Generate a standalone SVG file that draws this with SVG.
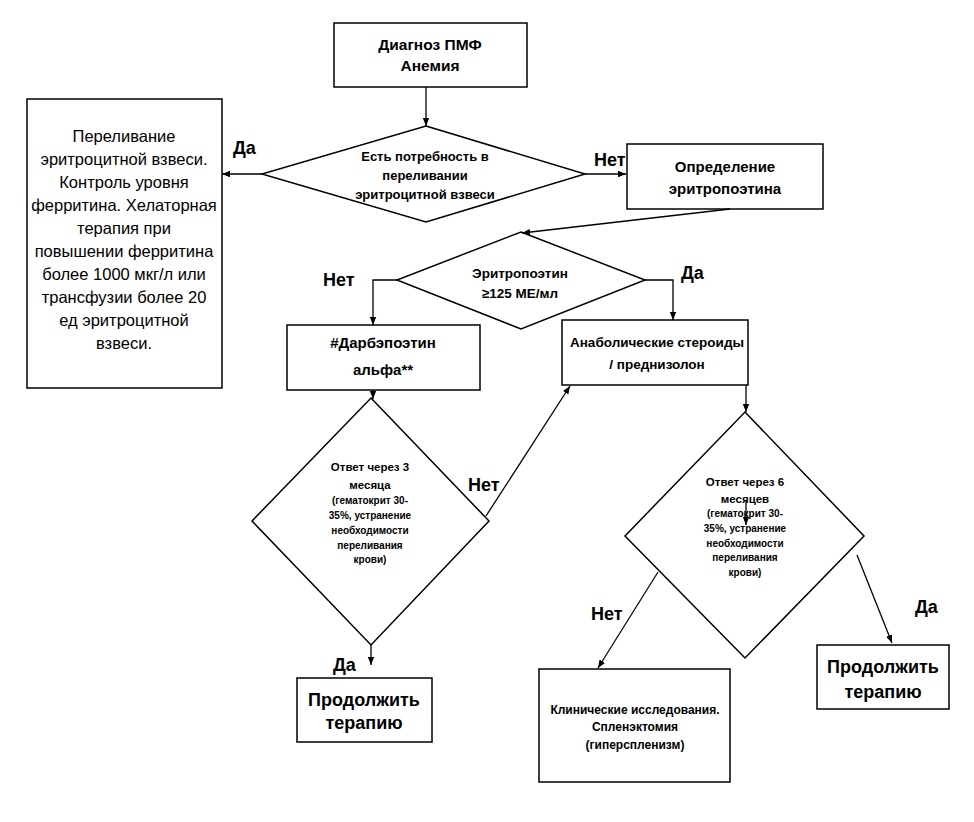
<svg xmlns="http://www.w3.org/2000/svg" width="974" height="822" viewBox="0 0 974 822">
<style>
.s{fill:#fff;stroke:#000;stroke-width:1.5}
.c{fill:none;stroke:#000;stroke-width:1.3;marker-end:url(#ah)}
text{font-family:"Liberation Sans",Arial,sans-serif;text-anchor:middle;fill:#000}
.b{font-weight:bold}
.l{font-weight:bold;font-size:18px;text-anchor:start}
</style>
<defs>
<marker id="ah" viewBox="0 0 10 10" refX="10" refY="5" markerWidth="8" markerHeight="8" markerUnits="userSpaceOnUse" orient="auto">
<path d="M0,1 L10,5 L0,9 z" fill="#000"/>
</marker>
</defs>
<rect width="974" height="822" fill="#fff"/>

<g id="start">
<rect class="s" x="334" y="23" width="193" height="64"/>
<text class="b" font-size="15.5"><tspan x="430" y="50">Диагноз ПМФ</tspan><tspan x="430" y="71">Анемия</tspan></text>
</g>

<g id="need-transfusion">
<polygon class="s" points="426,126 585,174 426,222 262,174"/>
<text class="b" font-size="13"><tspan x="425" y="161">Есть потребность  в</tspan><tspan x="425" y="180">переливании</tspan><tspan x="425" y="199">эритроцитной  взвеси</tspan></text>
</g>

<g id="transfusion">
<rect class="s" x="27" y="99" width="195" height="289"/>
<text font-size="16.5"><tspan x="124" y="142">Переливание</tspan><tspan x="124" y="165">эритроцитной взвеси.</tspan><tspan x="124" y="188">Контроль уровня</tspan><tspan x="124" y="211">ферритина. Хелаторная</tspan><tspan x="124" y="234">терапия при</tspan><tspan x="124" y="257">повышении ферритина</tspan><tspan x="124" y="280">более 1000 мкг/л или</tspan><tspan x="124" y="303">трансфузии более 20</tspan><tspan x="124" y="326">ед эритроцитной</tspan><tspan x="124" y="349">взвеси.</tspan></text>
</g>

<g id="epo-test">
<rect class="s" x="627" y="144" width="196" height="65"/>
<text class="b" font-size="15"><tspan x="725" y="172">Определение</tspan><tspan x="725" y="194">эритропоэтина</tspan></text>
</g>

<g id="epo-level">
<polygon class="s" points="521,232 645,280 521,329 397,280"/>
<text class="b" font-size="13.5"><tspan x="520" y="278">Эритропоэтин</tspan><tspan x="520" y="298">≥125 МЕ/мл</tspan></text>
</g>

<g id="darbepoetin">
<rect class="s" x="287" y="325" width="193" height="65"/>
<text class="b" font-size="15"><tspan x="383" y="348">#Дарбэпоэтин</tspan><tspan x="383" y="375">альфа**</tspan></text>
</g>

<g id="anabolic">
<rect class="s" x="562" y="320" width="186" height="65"/>
<text class="b" font-size="13.5"><tspan x="657" y="347">Анаболические  стероиды</tspan><tspan x="657" y="369">/ преднизолон</tspan></text>
</g>

<g id="response-3">
<polygon class="s" points="371,398 489,521 371,645 252,521"/>
<text class="b"><tspan x="370" y="471" font-size="11.5">Ответ через 3</tspan><tspan x="370" y="489" font-size="11.5">месяца</tspan><tspan x="370" y="504" font-size="10">(гематокрит 30-</tspan><tspan x="370" y="519" font-size="10">35%, устранение</tspan><tspan x="370" y="534" font-size="10">необходимости</tspan><tspan x="370" y="549" font-size="10">переливания</tspan><tspan x="370" y="563" font-size="10">крови)</tspan></text>
</g>

<g id="response-6">
<polygon class="s" points="745,412 864,536 745,658 625,536"/>
<text class="b"><tspan x="745" y="486" font-size="11.5">Ответ через 6</tspan><tspan x="745" y="503" font-size="11.5">месяцев</tspan><tspan x="745" y="517" font-size="10">(гематокрит 30-</tspan><tspan x="745" y="532" font-size="10">35%, устранение</tspan><tspan x="745" y="547" font-size="10">необходимости</tspan><tspan x="745" y="561" font-size="10">переливания</tspan><tspan x="745" y="576" font-size="10">крови)</tspan></text>
</g>

<g id="continue-1">
<rect class="s" x="297" y="678" width="135" height="64"/>
<text class="b" font-size="18"><tspan x="364" y="706">Продолжить</tspan><tspan x="364" y="729">терапию</tspan></text>
</g>

<g id="clinical">
<rect class="s" x="539" y="669" width="191" height="113"/>
<text class="b" font-size="12"><tspan x="635" y="714">Клинические исследования.</tspan><tspan x="635" y="731">Спленэктомия</tspan><tspan x="635" y="749">(гиперспленизм)</tspan></text>
</g>

<g id="continue-2">
<rect class="s" x="817" y="645" width="132" height="64"/>
<text class="b" font-size="18"><tspan x="883" y="673">Продолжить</tspan><tspan x="883" y="698">терапию</tspan></text>
</g>

<g id="connectors">
<path class="c" d="M426,87 V126"/>
<path class="c" d="M262,174 H222"/>
<path class="c" d="M585,174 H626"/>
<path class="c" d="M730,209 L522,233"/>
<path class="c" d="M397,280 H373 V325"/>
<path class="c" d="M645,280 H673 V320"/>
<path class="c" d="M373,390 V399"/>
<path class="c" d="M486,516 L570,386"/>
<path class="c" d="M746,385 V412"/>
<path class="c" d="M371,645 V665"/>
<path class="c" d="M658,572 L598,668"/>
<path class="c" d="M857,555 L892,643"/>
<path class="c" d="M746,500 V525"/>
<text class="l" x="233" y="154">Да</text>
<text class="l" x="594" y="166">Нет</text>
<text class="l" x="323" y="286">Нет</text>
<text class="l" x="681" y="279">Да</text>
<text class="l" x="468" y="491">Нет</text>
<text class="l" x="333" y="671">Да</text>
<text class="l" x="591" y="620">Нет</text>
<text class="l" x="915" y="613">Да</text>
</g>
</svg>
